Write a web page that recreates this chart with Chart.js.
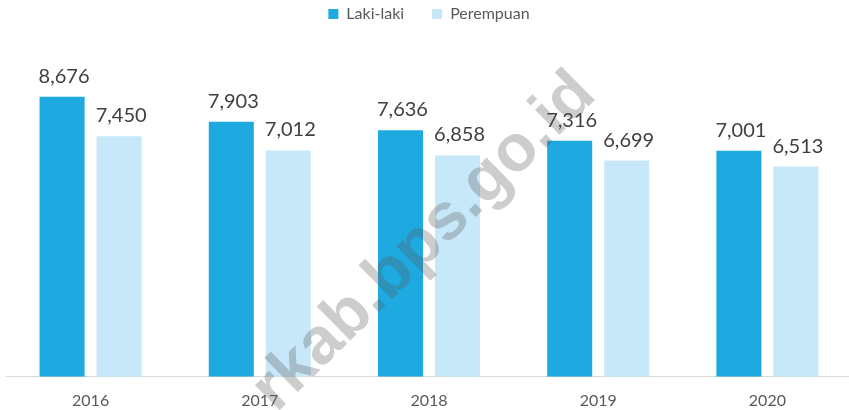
<!DOCTYPE html>
<html>
<head>
<meta charset="utf-8">
<script src="https://cdn.jsdelivr.net/npm/chart.js@4"></script>
<style>
  html, body { margin: 0; padding: 0; background: #fff; overflow: hidden; }
  #wrap { width: 853px; height: 410px; position: relative; }
</style>
</head>
<body>
<div id="wrap"><canvas id="chart1"></canvas></div>
<script>
var years = ["2016", "2017", "2018", "2019", "2020"];
var lakiLaki = [8676, 7903, 7636, 7316, 7001];
var perempuan = [7450, 7012, 6858, 6699, 6513];

// extra room under the legend
var legendSpace = {
  id: 'legendSpace',
  beforeInit: function(chart) {
    var fit = chart.legend.fit;
    chart.legend.fit = function() {
      fit.call(this);
      this.height += 22;
    };
  }
};

// value labels above each bar
var barLabels = {
  id: 'barLabels',
  afterDatasetsDraw: function(chart) {
    var c = chart.ctx;
    c.save();
    c.font = '20px Lato';
    c.fillStyle = '#404040';
    c.textAlign = 'center';
    c.textBaseline = 'alphabetic';
    chart.data.datasets.forEach(function(ds, i) {
      chart.getDatasetMeta(i).data.forEach(function(bar, j) {
        c.fillText(ds.data[j].toLocaleString('en-US'), bar.x + 2, bar.y - 14);
      });
    });
    c.restore();
  }
};

// faint diagonal watermark
var watermark = {
  id: 'watermark',
  afterDraw: function(chart) {
    var c = chart.ctx;
    c.save();
    c.translate(598, 97);
    c.rotate(-44.5 * Math.PI / 180);
    c.font = 'bold 66px "Liberation Sans"';
    c.fillStyle = 'rgba(90,90,90,0.3)';
    c.textAlign = 'right';
    c.textBaseline = 'alphabetic';
    c.fillText('rkab.bps.go.id', 0, 0);
    c.restore();
  }
};

var ctx = document.getElementById('chart1').getContext('2d');
var chart = new Chart(ctx, {
  type: 'bar',
  data: {
    labels: years,
    datasets: [{
      label: "Laki-laki",
      backgroundColor: '#1FA9E1',
      data: lakiLaki
    }, {
      label: "Perempuan",
      backgroundColor: '#C7E8F9',
      data: perempuan
    }]
  },
  options: {
    responsive: true,
    maintainAspectRatio: false,
    animation: false,
    categoryPercentage: 0.674,
    barPercentage: 0.79,
    layout: {
      padding: { top: -22, left: 6, right: 1, bottom: -14 }
    },
    plugins: {
      tooltip: { enabled: false },
      legend: {
        position: 'top',
        labels: {
          color: '#595959',
          font: { family: 'Lato', size: 16 },
          boxWidth: 10,
          boxHeight: 10,
          padding: 28
        }
      }
    },
    scales: {
      x: {
        grid: { display: false, drawTicks: false },
        border: { display: true, color: '#D9D9D9', width: 1 },
        ticks: {
          color: '#595959',
          font: { family: 'Lato', size: 16 },
          padding: 14
        }
      },
      y: {
        display: false,
        min: 0,
        max: 10000
      }
    }
  },
  plugins: [legendSpace, barLabels, watermark]
});
</script>
</body>
</html>
